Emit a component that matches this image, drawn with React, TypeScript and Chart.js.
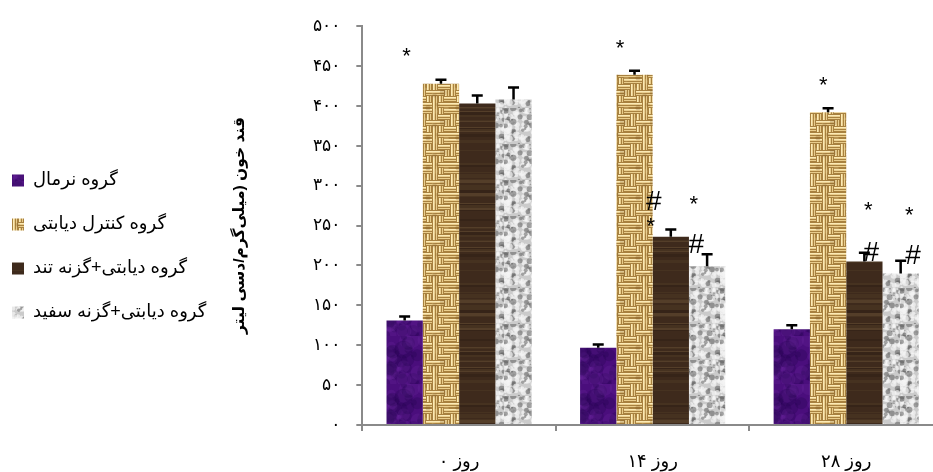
import React, { useEffect, useRef } from 'react';
import { Chart, registerables } from 'chart.js';

Chart.register(...registerables);

const categories = ['روز ۰', 'روز ۱۴', 'روز ۲۸'];
const seriesNames = ['گروه نرمال', 'گروه کنترل دیابتی', 'گروه دیابتی+گزنه تند', 'گروه دیابتی+گزنه سفید'];
const normalValues = [131, 97, 120];
const controlValues = [428, 439, 392];
const hotNettleValues = [403, 236, 205];
const whiteNettleValues = [408, 199, 190];
const normalErrors = [5, 4, 5];
const controlErrors = [5, 5, 5];
const hotNettleErrors = [10, 9, 11];
const whiteNettleErrors = [15, 15, 16];
const yTickValues = [0, 50, 100, 150, 200, 250, 300, 350, 400, 450, 500];
const yTickLabels = ['۰', '۵۰', '۱۰۰', '۱۵۰', '۲۰۰', '۲۵۰', '۳۰۰', '۳۵۰', '۴۰۰', '۴۵۰', '۵۰۰'];
const yAxisTitle = 'قند خون (میلی‌گرم/دسی لیتر';

// significance marks: category, series, symbol, value level, shift (in bar widths)
const markCategory = [0, 1, 1, 1, 1, 1, 2, 2, 2, 2, 2];
const markSeries = [0, 1, 2, 2, 3, 3, 1, 2, 2, 3, 3];
const markText = ['*', '*', '#', '*', '*', '#', '*', '*', '#', '*', '#'];
const markValue = [468, 478, 282, 255, 282, 227, 431, 274, 218, 268, 214];
const markShift = [0.05, -0.4, -0.47, -0.55, -0.37, -0.3, -0.13, 0.11, 0.19, 0.24, 0.34];

const allValues = [normalValues, controlValues, hotNettleValues, whiteNettleValues];
const allErrors = [normalErrors, controlErrors, hotNettleErrors, whiteNettleErrors];

const FONT = '"Liberation Sans", Arial, "DejaVu Sans", sans-serif';

function lcg(seed: number) {
  let s = seed >>> 0;
  return () => {
    s = (Math.imul(s, 1664525) + 1013904223) >>> 0;
    return s / 4294967296;
  };
}

function makePattern(w: number, h: number, draw: (g: CanvasRenderingContext2D) => void) {
  const c = document.createElement('canvas');
  c.width = w;
  c.height = h;
  const g = c.getContext('2d')!;
  draw(g);
  const main = document.createElement('canvas').getContext('2d')!;
  return main.createPattern(c, 'repeat')!;
}

function purplePattern() {
  return makePattern(48, 48, (g) => {
    g.fillStyle = '#4a0e7c';
    g.fillRect(0, 0, 48, 48);
    const r = lcg(11);
    for (let i = 0; i < 50; i++) {
      g.fillStyle = r() > 0.5 ? 'rgba(115,45,165,0.22)' : 'rgba(35,5,80,0.28)';
      g.beginPath();
      g.arc(r() * 48, r() * 48, 2 + r() * 7, 0, Math.PI * 2);
      g.fill();
    }
  });
}

function tanPattern() {
  return makePattern(30, 30, (g) => {
    g.fillStyle = '#a8813f';
    g.fillRect(0, 0, 30, 30);
    const r = lcg(7);
    for (let cy = 0; cy < 5; cy++) {
      for (let cx = 0; cx < 5; cx++) {
        const x0 = cx * 6;
        const y0 = cy * 6;
        const horiz = r() > 0.5;
        g.fillStyle = '#e9cd8c';
        if (horiz) {
          g.fillRect(x0, y0 + 1, 6, 2);
          g.fillRect(x0, y0 + 4, 6, 1);
          g.fillStyle = '#fbeab6';
          g.fillRect(x0, y0 + 1, 6, 1);
        } else {
          g.fillRect(x0 + 1, y0, 2, 6);
          g.fillRect(x0 + 4, y0, 1, 6);
          g.fillStyle = '#fbeab6';
          g.fillRect(x0 + 1, y0, 1, 6);
        }
      }
    }
    for (let i = 0; i < 8; i++) {
      g.fillStyle = r() > 0.5 ? 'rgba(110,75,25,0.22)' : 'rgba(240,215,150,0.25)';
      g.beginPath();
      g.arc(r() * 30, r() * 30, 1.5 + r() * 3, 0, Math.PI * 2);
      g.fill();
    }
  });
}

function brownPattern() {
  return makePattern(8, 120, (g) => {
    g.fillStyle = '#3e2a1c';
    g.fillRect(0, 0, 8, 120);
    const r = lcg(5);
    let y = 0;
    while (y < 120) {
      const h = 1 + Math.floor(r() * 3);
      const v = r();
      if (v > 0.8) g.fillStyle = 'rgba(125,100,65,0.35)';
      else if (v > 0.55) g.fillStyle = 'rgba(90,68,44,0.3)';
      else if (v < 0.2) g.fillStyle = 'rgba(40,26,16,0.35)';
      else g.fillStyle = 'rgba(0,0,0,0)';
      g.fillRect(0, y, 8, h);
      y += h;
    }
  });
}

function greyPattern() {
  return makePattern(36, 36, (g) => {
    g.fillStyle = '#cbcbcb';
    g.fillRect(0, 0, 36, 36);
    const r = lcg(23);
    for (let i = 0; i < 100; i++) {
      const t = r();
      g.fillStyle = t > 0.55 ? 'rgba(85,85,85,0.5)' : 'rgba(245,245,245,0.7)';
      g.beginPath();
      g.arc(r() * 36, r() * 36, 1 + r() * 2.4, 0, Math.PI * 2);
      g.fill();
    }
  });
}

const errorBarPlugin = {
  id: 'errorBars',
  afterDatasetsDraw(chart: any) {
    const ctx = chart.ctx;
    const ys = chart.scales.y;
    chart.data.datasets.forEach((ds: any, di: number) => {
      const meta = chart.getDatasetMeta(di);
      meta.data.forEach((bar: any, i: number) => {
        const top = ys.getPixelForValue(allValues[di][i] + allErrors[di][i]);
        ctx.save();
        ctx.strokeStyle = '#000';
        ctx.lineWidth = 2.5;
        ctx.beginPath();
        ctx.moveTo(bar.x, bar.y);
        ctx.lineTo(bar.x, top);
        ctx.moveTo(bar.x - 5.5, top);
        ctx.lineTo(bar.x + 5.5, top);
        ctx.stroke();
        ctx.restore();
      });
    });
  },
};

const marksPlugin = {
  id: 'sigMarks',
  afterDatasetsDraw(chart: any) {
    const ctx = chart.ctx;
    const ys = chart.scales.y;
    markText.forEach((t, k) => {
      const bar = chart.getDatasetMeta(markSeries[k]).data[markCategory[k]];
      const x = bar.x + markShift[k] * bar.width;
      const yc = ys.getPixelForValue(markValue[k]);
      ctx.save();
      ctx.font = (t === '#' ? '28px ' : '22px ') + FONT;
      ctx.fillStyle = '#000';
      ctx.textAlign = 'center';
      ctx.textBaseline = 'alphabetic';
      const m = ctx.measureText(t);
      const y = yc + (m.actualBoundingBoxAscent - m.actualBoundingBoxDescent) / 2;
      ctx.fillText(t, x, y);
      ctx.restore();
    });
  },
};

export default function App() {
  const ref = useRef<HTMLCanvasElement>(null);
  useEffect(() => {
    if (!ref.current) return;
    const fills = [purplePattern(), tanPattern(), brownPattern(), greyPattern()];
    const axisColor = '#8a8a8a';
    const chart = new Chart(ref.current, {
      type: 'bar',
      data: {
        labels: categories,
        datasets: seriesNames.map((name, i) => ({
          label: name,
          data: allValues[i],
          backgroundColor: fills[i] as any,
          borderWidth: 0,
          barPercentage: 1,
          categoryPercentage: 0.75,
        })),
      },
      options: {
        responsive: false,
        animation: false,
        layout: { padding: { left: -14, right: 7, top: 21, bottom: 0 } },
        plugins: {
          legend: {
            position: 'left',
            align: 'center',
            labels: {
              boxWidth: 12,
              boxHeight: 12,
              padding: 26,
              color: '#000',
              font: { size: 18, family: FONT },
            },
          },
          tooltip: { enabled: false },
        },
        scales: {
          x: {
            grid: { drawOnChartArea: false, tickLength: 6, color: axisColor, lineWidth: 2 },
            border: { color: axisColor, width: 2 },
            ticks: { color: '#000', font: { size: 18, family: FONT }, padding: 20 },
            afterFit: (s: any) => {
              s.height = 47;
            },
          },
          y: {
            min: 0,
            max: 500,
            grid: { drawOnChartArea: false, tickLength: 6, color: axisColor, lineWidth: 2 },
            border: { color: axisColor, width: 2 },
            ticks: {
              stepSize: 50,
              color: '#000',
              font: { size: 17, family: FONT },
              padding: 16,
              callback: (v: any) => {
                const idx = yTickValues.indexOf(Number(v));
                return idx >= 0 ? yTickLabels[idx] : '';
              },
            },
            title: {
              display: true,
              text: yAxisTitle,
              color: '#000',
              font: { size: 15.5, weight: 'bold', family: FONT },
              padding: { top: 14, bottom: 0 },
            },
            afterFit: (s: any) => {
              s.width = 146;
            },
          },
        },
      },
      plugins: [errorBarPlugin, marksPlugin],
    } as any);
    return () => chart.destroy();
  }, []);
  return (
    <div style={{ position: 'fixed', left: 0, top: 0, width: 933, height: 472, overflow: 'hidden', background: '#fff' }}>
      <canvas ref={ref} width={950} height={472} style={{ display: 'block', width: 950, height: 472 }} />
    </div>
  );
}
